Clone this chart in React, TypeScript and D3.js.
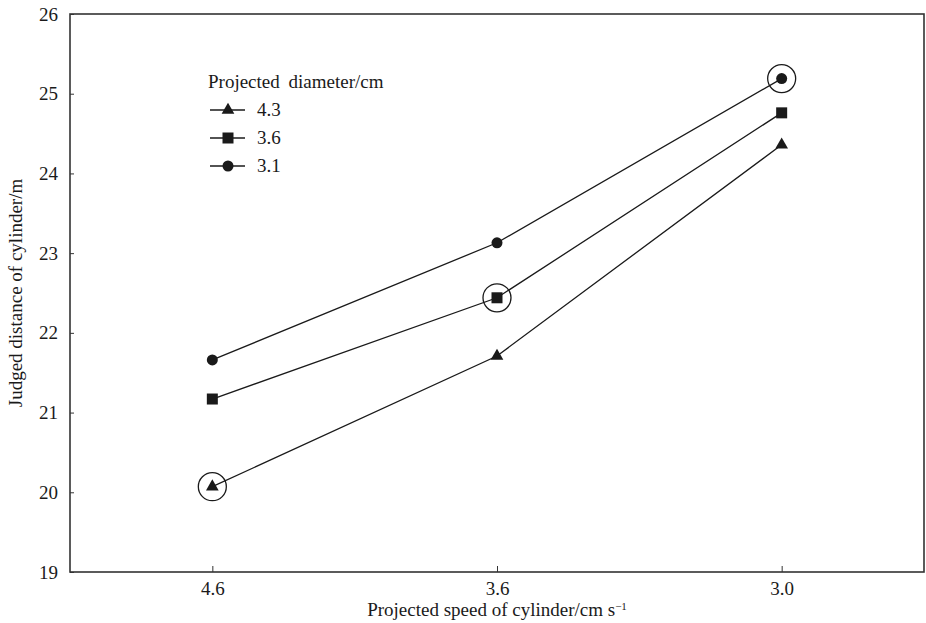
import React, { useEffect, useRef } from 'react';
import * as d3 from 'd3';

const speeds = ['4.6', '3.6', '3.0'];
const diameters = ['4.3', '3.6', '3.1'];
const markers = ['triangle', 'square', 'circle'];
const dist43 = [20.07, 21.71, 24.36];
const dist36 = [21.17, 22.44, 24.76];
const dist31 = [21.66, 23.13, 25.19];
const yTicks = [19, 20, 21, 22, 23, 24, 25, 26];
// which point of each series is ringed
const ringed = [0, 1, 2];

const W = 926;
const H = 623;

const App = () => {
  const svgRef = useRef<SVGSVGElement | null>(null);

  useEffect(() => {
    const svg = d3.select(svgRef.current);
    svg.selectAll('*').remove();

    const margin = { top: 14, right: 2, bottom: 51, left: 70 };
    const x = d3.scalePoint<string>()
      .domain(speeds)
      .range([margin.left, W - margin.right])
      .padding(0.5);
    const y = d3.scaleLinear()
      .domain([19, 26])
      .range([H - margin.bottom, margin.top]);

    const font = "'Liberation Serif', 'DejaVu Serif', 'Times New Roman', Times, serif";
    const ink = '#1a1a1a';

    // frame
    svg.append('rect')
      .attr('x', margin.left)
      .attr('y', margin.top)
      .attr('width', W - margin.left - margin.right)
      .attr('height', H - margin.top - margin.bottom)
      .attr('fill', 'none')
      .attr('stroke', '#333')
      .attr('stroke-width', 1.6);

    // y axis
    const yAxis = svg.append('g')
      .attr('transform', `translate(${margin.left},0)`)
      .call(d3.axisRight(y).tickValues(yTicks).tickSize(4).tickFormat(d3.format('d')))
      .attr('font-family', null)
      .attr('font-size', null);
    yAxis.select('.domain').remove();
    yAxis.selectAll('line').attr('stroke', '#333');
    yAxis.selectAll('text')
      .attr('x', -12)
      .attr('text-anchor', 'end')
      .attr('fill', ink)
      .attr('font-family', font)
      .attr('font-size', 19);

    // x axis
    const xAxis = svg.append('g')
      .attr('transform', `translate(0,${H - margin.bottom})`)
      .call(d3.axisTop(x).tickSize(6))
      .attr('font-family', null)
      .attr('font-size', null);
    xAxis.select('.domain').remove();
    xAxis.selectAll('line').attr('stroke', '#333');
    xAxis.selectAll('text')
      .attr('y', 23)
      .attr('fill', ink)
      .attr('font-family', font)
      .attr('font-size', 19);

    // axis titles
    const xt = svg.append('text')
      .attr('x', x('3.6'))
      .attr('y', 616)
      .attr('text-anchor', 'middle')
      .attr('fill', ink)
      .attr('font-family', font)
      .attr('font-size', 19)
      .text('Projected speed of cylinder/cm s');
    xt.append('tspan')
      .attr('dy', -6)
      .attr('font-size', 11)
      .text('\u22121');

    svg.append('text')
      .attr('transform', `translate(22,${y(22.5)}) rotate(-90)`)
      .attr('text-anchor', 'middle')
      .attr('fill', ink)
      .attr('font-family', font)
      .attr('font-size', 19)
      .text('Judged distance of cylinder/m');

    const series = [dist43, dist36, dist31];

    const drawMarker = (g, kind, cx, cy) => {
      if (kind === 'triangle') {
        g.append('path')
          .attr('d', d3.symbol(d3.symbolTriangle, 70)())
          .attr('transform', `translate(${cx},${cy})`)
          .attr('fill', ink);
      } else if (kind === 'square') {
        g.append('rect')
          .attr('x', cx - 5.5).attr('y', cy - 5.5)
          .attr('width', 11).attr('height', 11)
          .attr('fill', ink);
      } else {
        g.append('circle')
          .attr('cx', cx).attr('cy', cy).attr('r', 5.5)
          .attr('fill', ink);
      }
    };

    const line = d3.line<number>()
      .x((d, i) => x(speeds[i]))
      .y(d => y(d));

    const plot = svg.append('g');
    series.forEach((vals, s) => {
      plot.append('path')
        .datum(vals)
        .attr('d', line)
        .attr('fill', 'none')
        .attr('stroke', ink)
        .attr('stroke-width', 1.3);
      vals.forEach((v, i) => {
        drawMarker(plot, markers[s], x(speeds[i]), y(v));
      });
      const r = ringed[s];
      plot.append('circle')
        .attr('cx', x(speeds[r]))
        .attr('cy', y(vals[r]))
        .attr('r', 14)
        .attr('fill', 'none')
        .attr('stroke', ink)
        .attr('stroke-width', 1.3);
    });

    // legend
    const legend = svg.append('g').attr('transform', 'translate(208,0)');
    legend.append('text')
      .attr('x', 0)
      .attr('y', 88)
      .attr('fill', ink)
      .attr('font-family', font)
      .attr('font-size', 19)
      .attr('word-spacing', 4)
      .text('Projected diameter/cm');
    diameters.forEach((d, i) => {
      const ly = 110 + i * 28;
      legend.append('line')
        .attr('x1', 2).attr('x2', 37)
        .attr('y1', ly).attr('y2', ly)
        .attr('stroke', ink)
        .attr('stroke-width', 1.3);
      drawMarker(legend, markers[i], 20, ly);
      legend.append('text')
        .attr('x', 49)
        .attr('y', ly + 6)
        .attr('fill', ink)
        .attr('font-family', font)
        .attr('font-size', 19)
        .text(d);
    });
  }, []);

  return (
    <div style={{ position: 'absolute', left: 0, top: 0, width: W, height: H, background: '#fff' }}>
      <svg ref={svgRef} width={W} height={H} />
    </div>
  );
};

export default App;
